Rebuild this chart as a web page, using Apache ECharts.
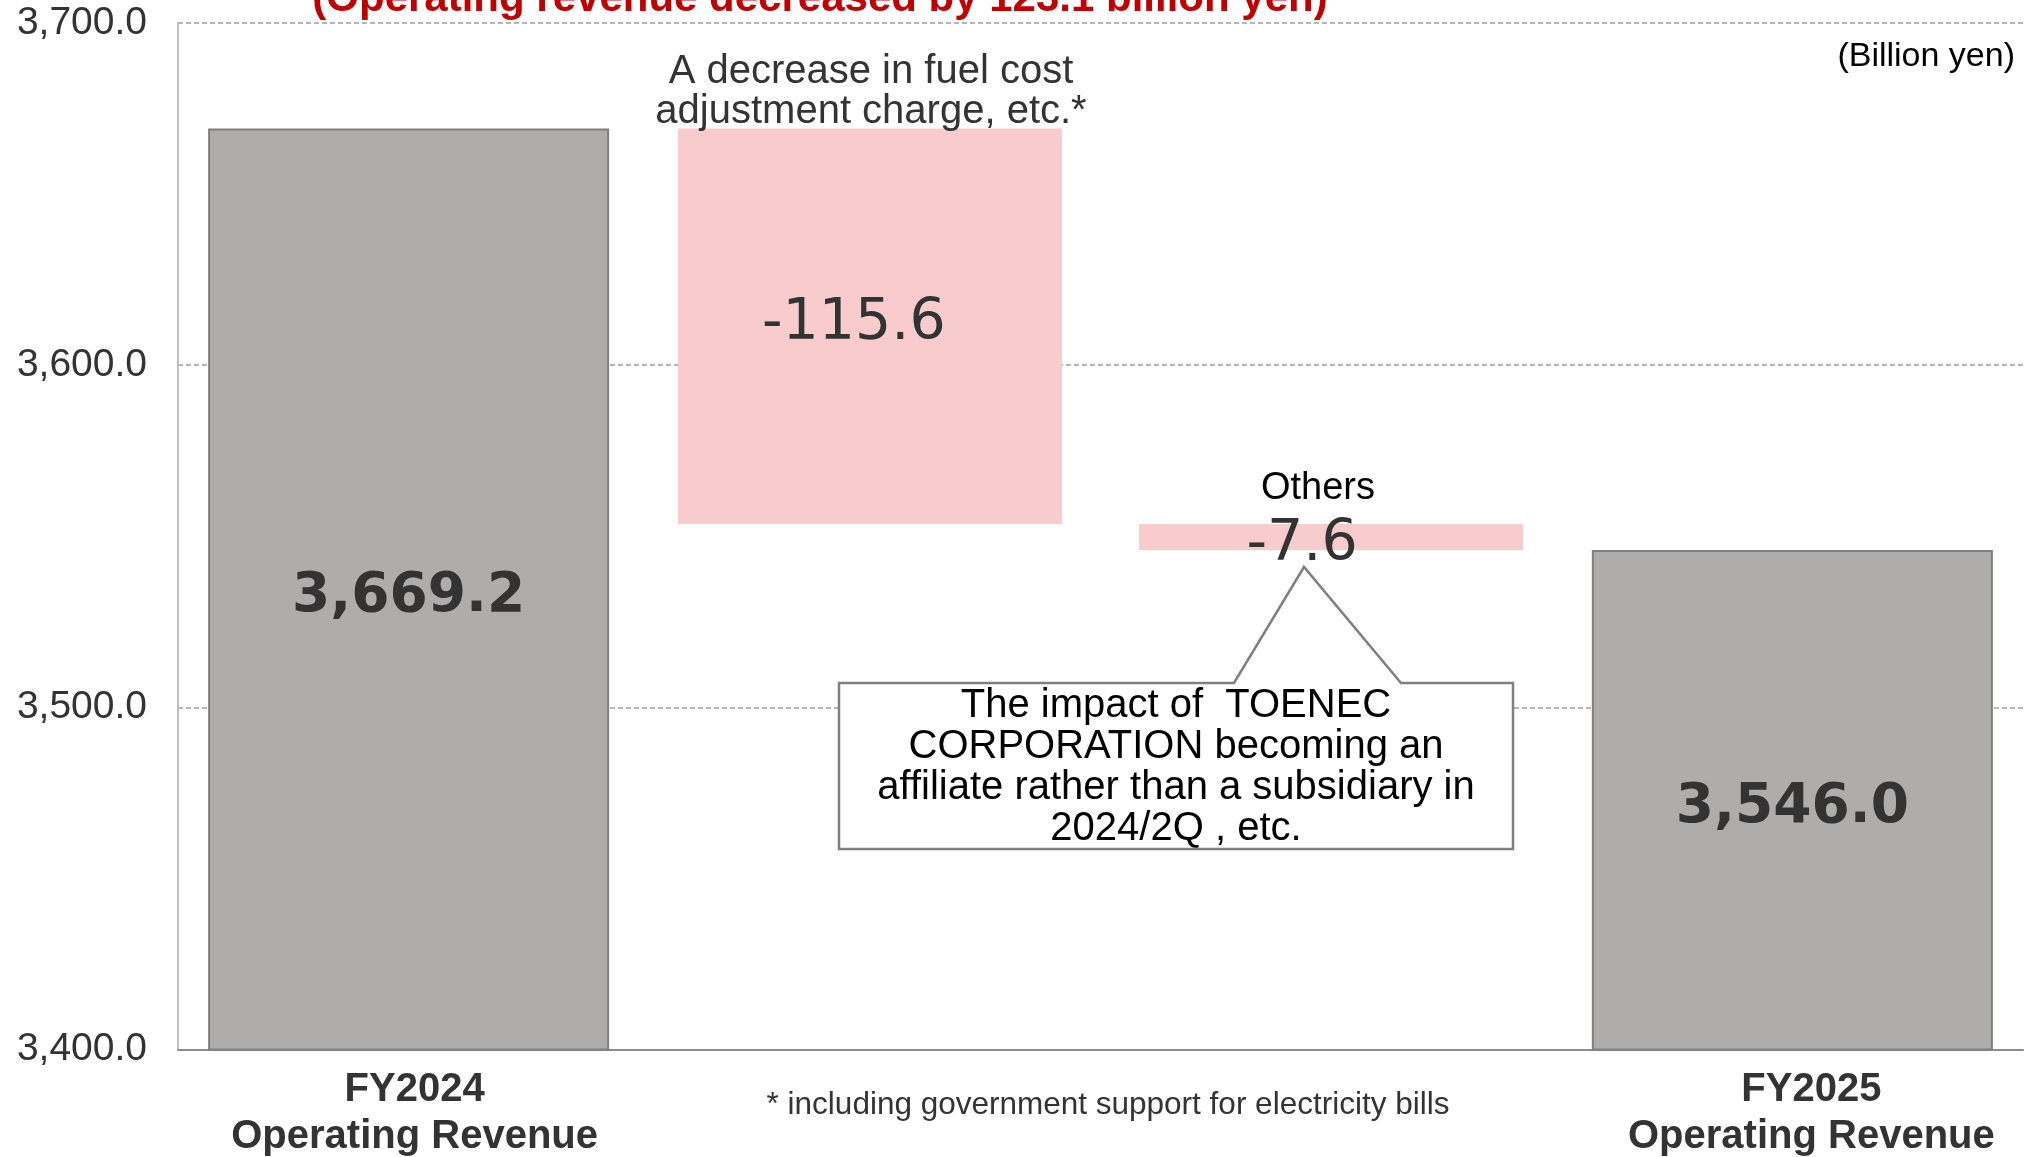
<!DOCTYPE html>
<html>
<head>
<meta charset="utf-8">
<style>
  html, body { margin: 0; padding: 0; background: #ffffff; }
  #chart { width: 2036px; height: 1157px; }
</style>
<script src="https://cdn.jsdelivr.net/npm/echarts@6/dist/echarts.min.js"></script>
</head>
<body>
<div id="chart"></div>
<script>
// ---- data ----
const categories = ['FY2024 Operating Revenue', 'Fuel cost adjustment charge', 'Others', 'FY2025 Operating Revenue'];
const tickLabels = ['FY2024\nOperating Revenue', '', '', 'FY2025\nOperating Revenue'];
const totals = [3669.2, null, null, 3546.0];
const changes = [null, -115.6, -7.6, null];
const yMin = 3400, yMax = 3700, yStep = 100;

// ---- derived waterfall pieces ----
const baseVals = [], deltaVals = [];
let level = null;
for (let i = 0; i < categories.length; i++) {
  if (totals[i] != null) { level = totals[i]; baseVals.push('-'); deltaVals.push('-'); }
  else { const low = level + changes[i]; baseVals.push(low); deltaVals.push(Math.abs(changes[i])); level = low; }
}
const totalVals = totals.map(v => v == null ? '-' : v);
const totalOffsets = [[0, 7], null, null, [0, 8]];
const changeOffsets = [null, [-16, -2], [-29, 8], null];
const tickPad = [12, 0, 0, 38];

const fmt1 = v => Number(v).toLocaleString('en-US', { minimumFractionDigits: 1, maximumFractionDigits: 1 });

const chart = echarts.init(document.getElementById('chart'));
const FONT = '"Liberation Sans", Arial, sans-serif';
const DV = '"DejaVu Sans", Verdana, sans-serif';

chart.setOption({
  animation: false,
  backgroundColor: '#ffffff',
  grid: { left: 178, right: 13, top: 23, bottom: 101, containLabel: false },
  xAxis: [
    {
      type: 'category', data: categories,
      axisLine: { show: true, lineStyle: { color: '#8c8c8c', width: 2 } },
      axisTick: { show: false },
      axisLabel: {
        interval: 0, margin: 17,
        formatter: (v, i) => tickLabels[i] ? tickLabels[i].split('\n').map(s => '{p' + i + '|' + s + '}').join('\n') : '',
        rich: Object.fromEntries(tickPad.map((p, i) => ['p' + i, {
          fontFamily: FONT, fontWeight: 'bold', fontSize: 40, lineHeight: 47, color: '#333333', padding: [0, 0, 0, p]
        }]))
      }
    },
    { type: 'category', data: categories, show: false }
  ],
  yAxis: {
    type: 'value', min: yMin, max: yMax, interval: yStep,
    axisLine: { show: true, lineStyle: { color: '#bfbfbf', width: 2 } },
    axisTick: { show: false },
    axisLabel: { formatter: fmt1, fontFamily: FONT, fontSize: 39, color: '#333333', margin: 31 },
    splitLine: { show: true, lineStyle: { color: '#9e9e9e', type: [5, 3], width: 1.5 } }
  },
  series: [
    {
      name: 'Total', type: 'bar', xAxisIndex: 0, barWidth: 401,
      data: totalVals.map((v, i) => v === '-' ? '-' : { value: v, label: { offset: totalOffsets[i] } }),
      itemStyle: { color: '#aeadab', borderColor: '#7f7f7f', borderWidth: 2 },
      label: {
        show: true, position: 'inside', formatter: p => fmt1(p.value),
        fontFamily: DV, fontWeight: 'bold', fontSize: 55, color: '#333333'
      },
      z: 3
    },
    {
      name: 'Base', type: 'bar', xAxisIndex: 1, stack: 'w', data: baseVals, barWidth: 384,
      itemStyle: { color: 'rgba(0,0,0,0)' }, silent: true, z: 3
    },
    {
      name: 'Change', type: 'bar', xAxisIndex: 1, stack: 'w', barWidth: 384,
      data: deltaVals.map((v, i) => v === '-' ? '-' : { value: v, label: { offset: changeOffsets[i] } }),
      itemStyle: { color: '#f8cbcc' },
      label: {
        show: true, position: 'inside', formatter: p => fmt1(changes[p.dataIndex]),
        fontFamily: DV, fontSize: 57, color: '#333333'
      },
      z: 3
    }
  ],
  graphic: [
    { type: 'text', z: 100, x: 820, y: -1, style: { text: '(Operating revenue decreased by 123.1 billion yen)', align: 'center', verticalAlign: 'middle', font: 'bold 42px ' + FONT, fill: '#c00000' } },
    { type: 'text', z: 100, x: 2015, y: 57, style: { text: '(Billion yen)', align: 'right', verticalAlign: 'middle', font: '34px ' + FONT, fill: '#000000' } },
    { type: 'text', z: 100, x: 871, y: 92, style: { text: 'A decrease in fuel cost\nadjustment charge, etc.*', align: 'center', verticalAlign: 'middle', font: '40px ' + FONT, lineHeight: 40, fill: '#333333' } },
    { type: 'text', z: 100, x: 1318, y: 489, style: { text: 'Others', align: 'center', verticalAlign: 'middle', font: '38px ' + FONT, fill: '#000000' } },
    { type: 'polygon', z: 90, shape: { points: [[839, 683], [1234, 683], [1304, 567], [1401, 683], [1513, 683], [1513, 849], [839, 849]] },
      style: { fill: '#ffffff', stroke: '#7f7f7f', lineWidth: 2.5 } },
    { type: 'text', z: 100, x: 1176, y: 767, style: { text: 'The impact of  TOENEC\nCORPORATION becoming an\naffiliate rather than a subsidiary in\n2024/2Q , etc.', align: 'center', verticalAlign: 'middle', font: '40px ' + FONT, lineHeight: 41, fill: '#000000' } },
    { type: 'text', z: 100, x: 1108, y: 1105, style: { text: '* including government support for electricity bills', align: 'center', verticalAlign: 'middle', font: '31.5px ' + FONT, fill: '#333333' } }
  ]
});
</script>
</body>
</html>
